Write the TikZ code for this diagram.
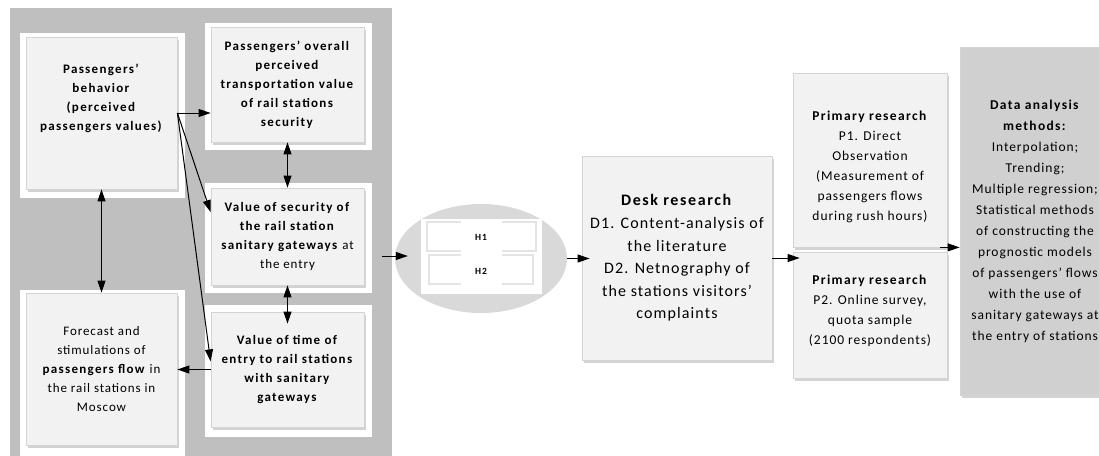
\documentclass[tikz,border=0pt]{standalone}
\usepackage{fontspec}
\setmainfont{Carlito}[LetterSpace=7,BoldFeatures={LetterSpace=10}]
\usetikzlibrary{arrows.meta,calc,shapes.geometric,shadows}
\definecolor{panelgray}{RGB}{191,191,191}
\definecolor{boxfill}{RGB}{242,242,242}
\definecolor{boxline}{RGB}{212,212,212}
\definecolor{methodfill}{RGB}{208,208,208}
\definecolor{ovalfill}{RGB}{217,217,217}
\definecolor{hypline}{RGB}{228,228,228}
\tikzset{
    panelbox/.style={fill=panelgray,draw=none},
    framebox/.style={fill=white,draw=none},
    valuebox/.style={rectangle,fill=boxfill,draw=boxline,line width=0.8,align=center,inner sep=2pt,
        drop shadow={shadow xshift=1.5pt,shadow yshift=-2.5pt,opacity=0.35,fill=gray},
        font=\fontsize{13}{19}\selectfont},
    deskbox/.style={valuebox,font=\fontsize{16}{22.6}\selectfont},
    researchbox/.style={valuebox,font=\fontsize{13.5}{20}\selectfont},
    methodbox/.style={valuebox,fill=methodfill,font=\fontsize{13.5}{21}\selectfont},
    hypoval/.style={ellipse,fill=ovalfill,draw=none,inner sep=0pt},
    hypframe/.style={rectangle,fill=white,draw=none,inner sep=0pt},
    hypbox/.style={rectangle,draw=hypline,line width=2,inner sep=0pt},
    hyplabel/.style={rectangle,fill=white,draw=none,inner sep=0pt,minimum width=41,
        font=\bfseries\fontsize{9.5}{11}\selectfont},
    linkvec/.style={->,line width=1},
    pairvec/.style={<->,line width=1}
}

\begin{document}
\begin{tikzpicture}[x=1pt,y=-1pt,>={Triangle[length=12pt,width=8pt]}]
    \useasboundingbox (0,0) rectangle (1099,455);
    % Panel of values
    \fill[panelbox] (10,8) rectangle (392,462);
    % White frames
    \fill[framebox] (20,33) rectangle (185,198);
    \fill[framebox] (205,23) rectangle (372,150);
    \fill[framebox] (205,183) rectangle (372,293);
    \fill[framebox] (205,305) rectangle (372,437);
    \fill[framebox] (20,290) rectangle (185,462);
    % Value boxes
    \node[valuebox,minimum width=151,minimum height=152] (behav) at (101.5,113)
        {\textbf{Passengers’}\\\textbf{behavior}\\\textbf{(perceived}\\\textbf{passengers values)}\\[12pt]};
    \node[valuebox,minimum width=153,minimum height=115] (topv) at (287.5,84.5)
        {\textbf{Passengers’ overall}\\\textbf{perceived}\\\textbf{transportation value}\\\textbf{of rail stations}\\\textbf{security}};
    \node[valuebox,minimum width=153,minimum height=97] (midv) at (287.5,236.5)
        {\textbf{Value of security of}\\\textbf{the rail station}\\\textbf{sanitary gateways} at\\the entry};
    \node[valuebox,minimum width=153,minimum height=115] (timev) at (287.5,369.5)
        {\textbf{Value of time of}\\\textbf{entry to rail stations}\\\textbf{with sanitary}\\\textbf{gateways}};
    \node[valuebox,minimum width=151,minimum height=152] (forecast) at (101.5,369)
        {Forecast and\\stimulations of\\\textbf{passengers flow} in\\the rail stations in\\Moscow};
    % Links inside the panel
    \draw[linkvec] (behav.east) -- (behav.east -| topv.west);
    \draw[linkvec] (behav.east) -- ($(midv.north west)!0.25!(midv.south west)$);
    \draw[linkvec] (behav.east) -- ($(timev.north west)!0.43!(timev.south west)$);
    \draw[linkvec] (timev.west) -- (timev.west -| forecast.east);
    \draw[pairvec] (behav.south) -- (forecast.north);
    \draw[pairvec] (topv.south) -- (midv.north);
    \draw[pairvec,shorten >=-12pt] (midv.south) -- (timev.north);
    % Hypotheses
    \node[hypoval,minimum width=172,minimum height=109] (hyp) at (481,258.5) {};
    \node[hypframe,minimum width=121,minimum height=75] (hset) at (481.5,256.5) {};
    \node[hypbox,minimum width=109,minimum height=29] (hbox1) at (481,236.5) {};
    \node[hypbox,minimum width=104,minimum height=29] (hbox2) at (481,269.5) {};
    \node[hyplabel,minimum height=34] (h1) at (481,237) {H1};
    \node[hyplabel,minimum height=36] (h2) at (481,271) {H2};
    \coordinate (pout) at (382,256);
    \draw[linkvec,shorten >=-13pt] (pout) -- (pout -| hyp.west);
    % Research stages
    \node[deskbox,minimum width=190,minimum height=204] (desk) at (677,258)
        {\textbf{Desk research}\\D1. Content-analysis of\\the literature\\D2. Netnography of\\the stations visitors’\\complaints};
    \node[researchbox,minimum width=154,minimum height=174] (p1) at (870,160)
        {\rule{0pt}{24pt}\textbf{Primary research}\\P1. Direct\\Observation\\(Measurement of\\passengers flows\\during rush hours)};
    \node[researchbox,minimum width=154,minimum height=126] (p2) at (870,315)
        {\textbf{Primary research}\\P2. Online survey,\\quota sample\\(2100 respondents)\\[-10pt]};
    \node[methodbox,minimum width=150,minimum height=348] (methods) at (1035,221)
        {\textbf{Data analysis}\\\textbf{methods:}\\Interpolation;\\Trending;\\Multiple regression;\\Statistical methods\\of constructing the\\prognostic models\\of passengers’ flows\\with the use of\\sanitary gateways at\\the entry of stations};
    \draw[linkvec,shorten >=-8pt] (hyp.east) -- (hyp.east -| desk.west);
    \draw[linkvec,shorten >=-7pt] (desk.east) -- (desk.east -| p2.west);
    \coordinate (pjoin) at ($(p1.south east)+(-7,0)$);
    \draw[linkvec] (pjoin) -- (pjoin -| methods.west);
\end{tikzpicture}
\end{document}
